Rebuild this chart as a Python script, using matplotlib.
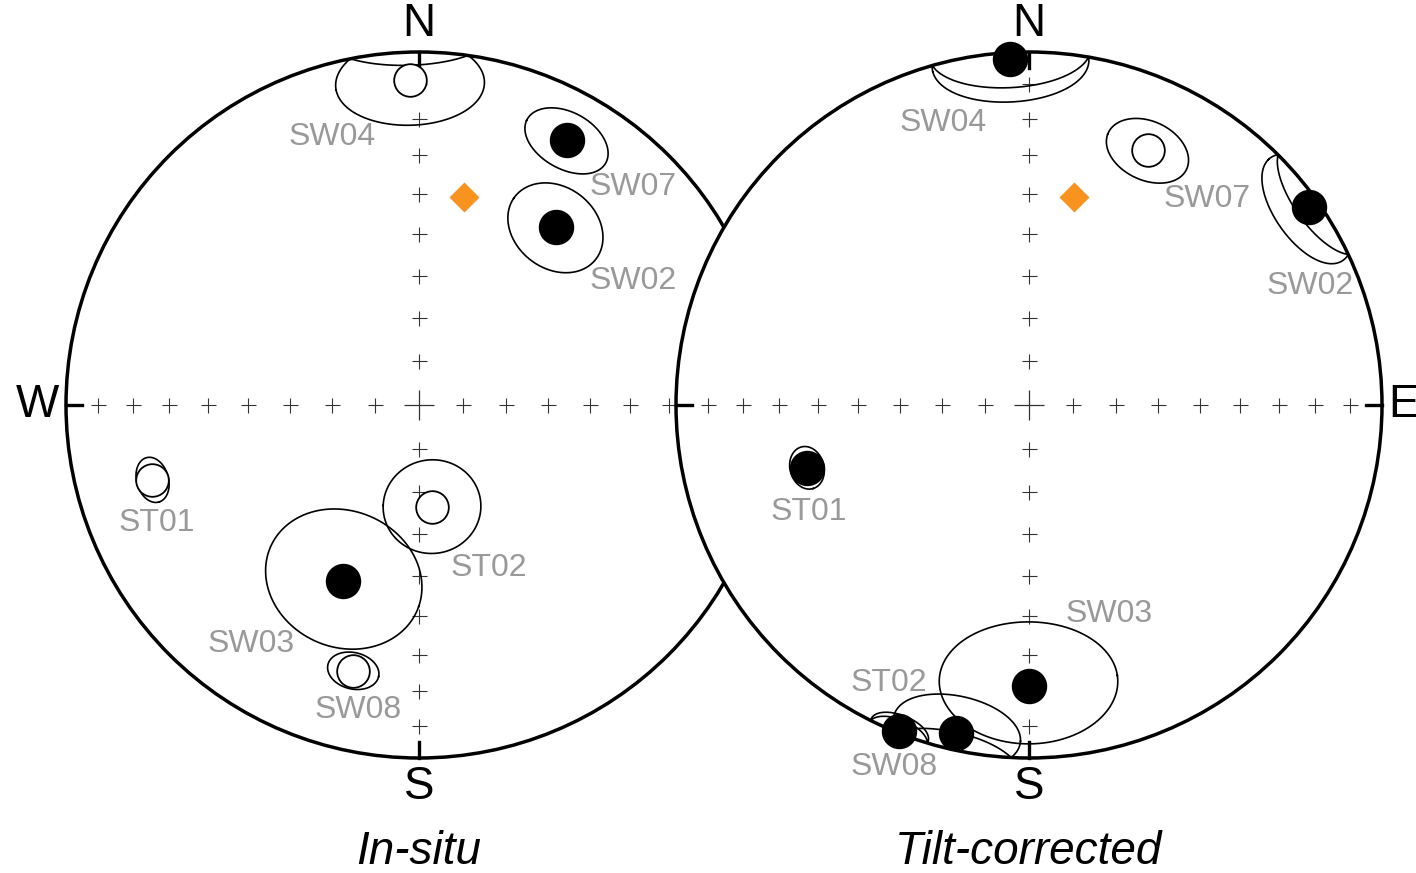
import numpy as np
import matplotlib
matplotlib.use('Agg')
import matplotlib.pyplot as plt
from matplotlib.patches import Circle

plt.rcParams['font.family'] = ['Liberation Sans', 'DejaVu Sans']

sites = ['SW04', 'SW07', 'SW02', 'ST01', 'ST02', 'SW03', 'SW08']
a95 = [13.0, 8.2, 10.5, 4.4, 11.0, 17.0, 5.0]
insitu_dec = [358.4, 29.2, 37.6, 254.3, 172.7, 203.4, 193.9]
insitu_inc = [-8.8, 15.1, 36.5, -22.6, -66.2, 44.8, -23.4]
tilt_dec = [356.9, 25.0, 54.8, 254.2, 192.5, 180.1, 201.7]
tilt_inc = [2.1, -21.4, 3.3, 34.9, 5.4, 21.5, 0.7]

# reference field direction (orange diamond)
ref_dec = 12.2
ref_inc = 39.5

# label offsets in pixels from the site mean
insitu_lab = [(-78, 57), (66, 47), (77, 54), (4, 43), (57, 61), (-92, 63), (5, 39)]
tilt_lab = [(-67, 64), (59, 49), (1, 79), (2, 44), (-67, -50), (81, -72), (-5, 36)]

R = 353


def proj(dec, inc):
    # lambert equal area, lower/upper hemisphere folded by |inc|
    dec = np.radians(dec)
    r = np.sqrt(2) * np.sin(np.radians(90 - np.abs(inc)) / 2)
    return r * np.sin(dec), r * np.cos(dec)


def cone(dec, inc, a, n=400):
    d, i = np.radians(dec), np.radians(inc)
    v = np.array([np.cos(i)*np.cos(d), np.cos(i)*np.sin(d), np.sin(i)])
    tmp = np.array([0, 0, 1.0]) if abs(v[2]) < 0.9 else np.array([1.0, 0, 0])
    u1 = np.cross(v, tmp)
    u1 /= np.linalg.norm(u1)
    u2 = np.cross(v, u1)
    t = np.linspace(0, 2*np.pi, n)
    a = np.radians(a)
    p = (np.cos(a)*v[:, None] + np.sin(a)*(np.outer(u1, np.cos(t)) + np.outer(u2, np.sin(t))))
    dd = np.degrees(np.arctan2(p[1], p[0]))
    ii = np.degrees(np.arcsin(np.clip(p[2], -1, 1)))
    return proj(dd, ii)


def draw_net(ax, cx, cy, decs, incs, labs, z, letters):
    to_px = lambda x, y: (cx + R*np.asarray(x), cy - R*np.asarray(y))

    ax.add_patch(Circle((cx, cy), R, facecolor='white', edgecolor='black',
                        lw=2.5, zorder=z))
    # ticks at N E S W
    ax.plot([cx, cx], [cy-R, cy-R+16], color='black', lw=2.4, zorder=z+1)
    ax.plot([cx, cx], [cy+R, cy+R-16], color='black', lw=2.4, zorder=z+1)
    ax.plot([cx-R, cx-R+16], [cy, cy], color='black', lw=2.4, zorder=z+1)
    ax.plot([cx+R, cx+R-16], [cy, cy], color='black', lw=2.4, zorder=z+1)

    # crosses every 10 degrees of inclination along the axes
    tick_inc = np.arange(10, 90, 10)
    for az in [0, 90, 180, 270]:
        px, py = to_px(*proj(np.full(len(tick_inc), az), tick_inc))
        ax.plot(px, py, ls='none', marker='+', ms=10.8, mew=0.8,
                color='#333333', zorder=z+1)
    ax.plot([cx], [cy], marker='+', ms=21.6, mew=0.9, color='#333333', zorder=z+1)

    # reference direction
    px, py = to_px(*proj(ref_dec, ref_inc))
    ax.plot(px, py, marker='D', ms=15, color='#F7931E', mec='none', zorder=z+3)

    for k in range(len(sites)):
        cxs, cys = to_px(*cone(decs[k], incs[k], a95[k]))
        ax.plot(cxs, cys, color='black', lw=1.2, zorder=z+2)
        px, py = to_px(*proj(decs[k], incs[k]))
        if incs[k] >= 0:
            ax.plot(px, py, marker='o', ms=24.5, color='black', mec='black', zorder=z+4)
        else:
            ax.plot(px, py, marker='o', ms=23.5, mfc='white', mec='black', mew=1.3, zorder=z+4)
        ax.text(px + labs[k][0], py + labs[k][1], sites[k], color='#999999',
                fontsize=23, ha='center', va='center', zorder=z+5)

    fs = 33
    if 'N' in letters:
        ax.text(cx, cy-R-6, 'N', fontsize=fs, ha='center', va='bottom', zorder=z+5)
    if 'S' in letters:
        ax.text(cx, cy+R+7, 'S', fontsize=fs, ha='center', va='top', zorder=z+5)
    if 'W' in letters:
        ax.text(cx-R-7, cy, 'W', fontsize=fs, ha='right', va='center', zorder=z+5)
    if 'E' in letters:
        ax.text(cx+R+6, cy, 'E', fontsize=fs, ha='left', va='center', zorder=z+5)


fig = plt.figure(figsize=(14.16, 8.73), dpi=100)
ax = fig.add_axes([0, 0, 1, 1])
ax.set_xlim(0, 1416)
ax.set_ylim(873, 0)
ax.axis('off')

draw_net(ax, 419, 405, insitu_dec, insitu_inc, insitu_lab, 1, 'NSW')
draw_net(ax, 1029, 405, tilt_dec, tilt_inc, tilt_lab, 10, 'NSE')

ax.text(419, 852, 'In-situ', fontsize=33, style='italic', ha='center', va='center')
ax.text(1029, 852, 'Tilt-corrected', fontsize=33, style='italic', ha='center', va='center')

fig.savefig('out.png', dpi=100)
